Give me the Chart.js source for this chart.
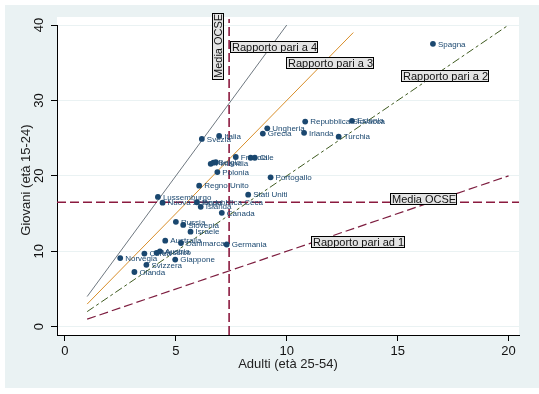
<!DOCTYPE html>
<html>
<head>
<meta charset="utf-8">
<script src="https://cdn.jsdelivr.net/npm/chart.js@4.4.1/dist/chart.umd.min.js"></script>
<style>
  body { margin: 0; background: #fff; }
  #box { width: 539px; height: 394px; }
</style>
</head>
<body>
<div id="box"><canvas id="grafico"></canvas></div>
<script>
// tassi di disoccupazione: adulti (25-54) e giovani (15-24)
const paesi = ['Spagna', 'Repubblica Slovacca', 'Estonia', 'Ungheria', 'Grecia', 'Irlanda', 'Turchia',
  'Svezia', 'Italia', 'Francia', '', 'Cile', 'Finlandia', 'Belgio', '', 'Polonia', 'Portogallo',
  'Regno Unito', 'Stati Uniti', 'Lussemburgo', 'Nuova Zelanda', 'Repubblica Ceca', 'Islanda', 'Canada',
  'Russia', 'Slovenia', 'Israele', 'Australia', 'Danimarca', 'Germania', 'Corea', 'Messico', 'Austria',
  'Norvegia', 'Giappone', 'Svizzera', 'Olanda'];
const adulti = [16.59, 10.83, 12.94, 9.12, 8.92, 10.78, 12.34,
  6.17, 6.95, 7.70, 8.37, 8.56, 6.57, 6.69, 6.80, 6.87, 9.27,
  6.05, 8.26, 4.19, 4.40, 5.95, 6.12, 7.07,
  5.00, 5.33, 5.66, 4.52, 5.23, 7.29, 3.58, 4.13, 4.28,
  2.49, 4.97, 3.67, 3.13];
const giovani = [37.5, 27.2, 27.3, 26.3, 25.6, 25.7, 25.2,
  24.9, 25.3, 22.5, 22.4, 22.4, 21.6, 21.75, 21.8, 20.5, 19.8,
  18.7, 17.5, 17.2, 16.45, 16.5, 15.9, 15.1,
  13.9, 13.5, 12.6, 11.4, 11.1, 10.9, 9.7, 9.8, 10.0,
  9.1, 8.9, 8.2, 7.25];

// rette di rapporto giovani/adulti (estremi)
const r4X = [1, 10], r4Y = [4, 40];
const r3X = [1, 13], r3Y = [3, 39];
const r2X = [1, 20], r2Y = [2, 40];
const r1X = [1, 20], r1Y = [1, 20];

// medie OCSE
const mediaAdulti = 7.4;
const mediaGiovani = 16.5;

const tickX = [0, 5, 10, 15, 20];
const tickY = [0, 10, 20, 30, 40];

const xMin = -0.36, xMax = 20.47, yMin = -1.1, yMax = 40;

const caselle = [
  { testo: 'Rapporto pari a 4', x: 7.42, y: 37.1 },
  { testo: 'Rapporto pari a 3', x: 9.95, y: 34.9 },
  { testo: 'Rapporto pari a 2', x: 15.15, y: 33.3 },
  { testo: 'Rapporto pari ad 1', x: 11.1, y: 11.2 },
  { testo: 'Media OCSE', x: 14.67, y: 16.9 },
  { testo: 'Media OCSE', x: 6.91, y: 37.2, ruota: true }
];

const FONT = '"Liberation Sans", Arial, sans-serif';
Chart.defaults.font.family = FONT;

function coppie(xs, ys) {
  return xs.map((x, i) => ({ x: x, y: ys[i] }));
}

function linea(xs, ys, colore, spessore, tratto) {
  return {
    data: coppie(xs, ys),
    showLine: true,
    pointRadius: 0,
    borderColor: colore,
    borderWidth: spessore,
    borderDash: tratto,
    fill: false
  };
}

const sfondo = {
  id: 'sfondo',
  beforeDraw(chart) {
    const c = chart.ctx, a = chart.chartArea;
    c.save();
    c.fillStyle = '#ffffff';
    c.fillRect(0, 0, chart.width, chart.height);
    c.fillStyle = '#eaf2f3';
    c.fillRect(5, 5, chart.width - 5, 383);
    c.fillStyle = '#ffffff';
    c.fillRect(a.left, a.top - 8, a.right - a.left, a.bottom - a.top + 8);
    c.restore();
  }
};

function casella(c, testo, px, py, ruota) {
  c.save();
  c.font = '11px ' + FONT;
  const w = Math.round(c.measureText(testo).width) + 3;
  const h = 12;
  c.translate(Math.round(px), Math.round(py));
  let x0 = 0;
  if (ruota) {
    c.rotate(-Math.PI / 2);
    x0 = -Math.round(w / 2);
  }
  c.fillStyle = '#e4e4e4';
  c.fillRect(x0, -h / 2, w, h);
  c.strokeStyle = '#000';
  c.lineWidth = 1;
  c.strokeRect(x0 + 0.5, -h / 2 + 0.5, w - 1, h - 1);
  c.fillStyle = '#111';
  c.textBaseline = 'middle';
  c.textAlign = 'left';
  c.fillText(testo, x0 + 2, 0.5);
  c.restore();
}

const etichette = {
  id: 'etichette',
  afterDatasetsDraw(chart) {
    const c = chart.ctx;
    const meta = chart.getDatasetMeta(0);
    c.save();
    c.font = '8px ' + FONT;
    c.fillStyle = '#1a476f';
    c.textBaseline = 'middle';
    meta.data.forEach((p, i) => {
      if (paesi[i]) c.fillText(paesi[i], p.x + 5, p.y + 0.5);
    });
    c.restore();
    const sx = chart.scales.x, sy = chart.scales.y;
    caselle.forEach(k => {
      casella(c, k.testo, sx.getPixelForValue(k.x), sy.getPixelForValue(k.y), k.ruota);
    });
  }
};

new Chart(document.getElementById('grafico'), {
  type: 'scatter',
  data: {
    datasets: [
      {
        data: coppie(adulti, giovani),
        pointRadius: 2.9,
        pointBackgroundColor: '#1a476f',
        pointBorderColor: '#1a476f',
        pointBorderWidth: 0
      },
      Object.assign(linea([mediaAdulti, mediaAdulti], [yMin, 40.8], '#8b1a3f', 1.6, [9, 4]), { clip: false }),
      linea([xMin, xMax], [mediaGiovani, mediaGiovani], '#8b1a3f', 1.6, [9, 4]),
      linea(r4X, r4Y, '#6f7880', 1, []),
      linea(r3X, r3Y, '#d98f2b', 1, []),
      linea(r2X, r2Y, '#3f5b20', 1, [8, 3, 3, 3]),
      linea(r1X, r1Y, '#7d1d3f', 1.2, [9, 4])
    ]
  },
  options: {
    responsive: true,
    maintainAspectRatio: false,
    animation: false,
    layout: { padding: { top: 25, right: 20, bottom: 0, left: 0 } },
    plugins: {
      legend: { display: false },
      tooltip: { enabled: false }
    },
    scales: {
      x: {
        type: 'linear',
        min: xMin,
        max: xMax,
        afterBuildTicks: s => { s.ticks = tickX.map(v => ({ value: v })); },
        afterFit: s => { s.height = 59; },
        grid: { drawOnChartArea: false, tickColor: '#000', tickLength: 6 },
        border: { color: '#000', width: 1 },
        ticks: { color: '#111', font: { size: 13 }, padding: 3, maxRotation: 0, autoSkip: false },
        title: {
          display: true,
          text: 'Adulti (età 25-54)',
          color: '#222',
          font: { size: 13 },
          padding: { top: 0, bottom: 21.5 }
        }
      },
      y: {
        type: 'linear',
        min: yMin,
        max: yMax,
        afterBuildTicks: s => { s.ticks = tickY.map(v => ({ value: v })); },
        afterFit: s => { s.width = 57; },
        grid: { color: '#eaf2f3', tickColor: '#000', tickLength: 6, lineWidth: 1 },
        border: { color: '#000', width: 1 },
        ticks: {
          color: '#111', font: { size: 13 }, padding: 4,
          minRotation: 90, maxRotation: 90, crossAlign: 'center', autoSkip: false
        },
        title: {
          display: true,
          text: 'Giovani (età 15-24)',
          color: '#222',
          font: { size: 13 },
          padding: { top: 19, bottom: 0 }
        }
      }
    }
  },
  plugins: [sfondo, etichette]
});
</script>
</body>
</html>
